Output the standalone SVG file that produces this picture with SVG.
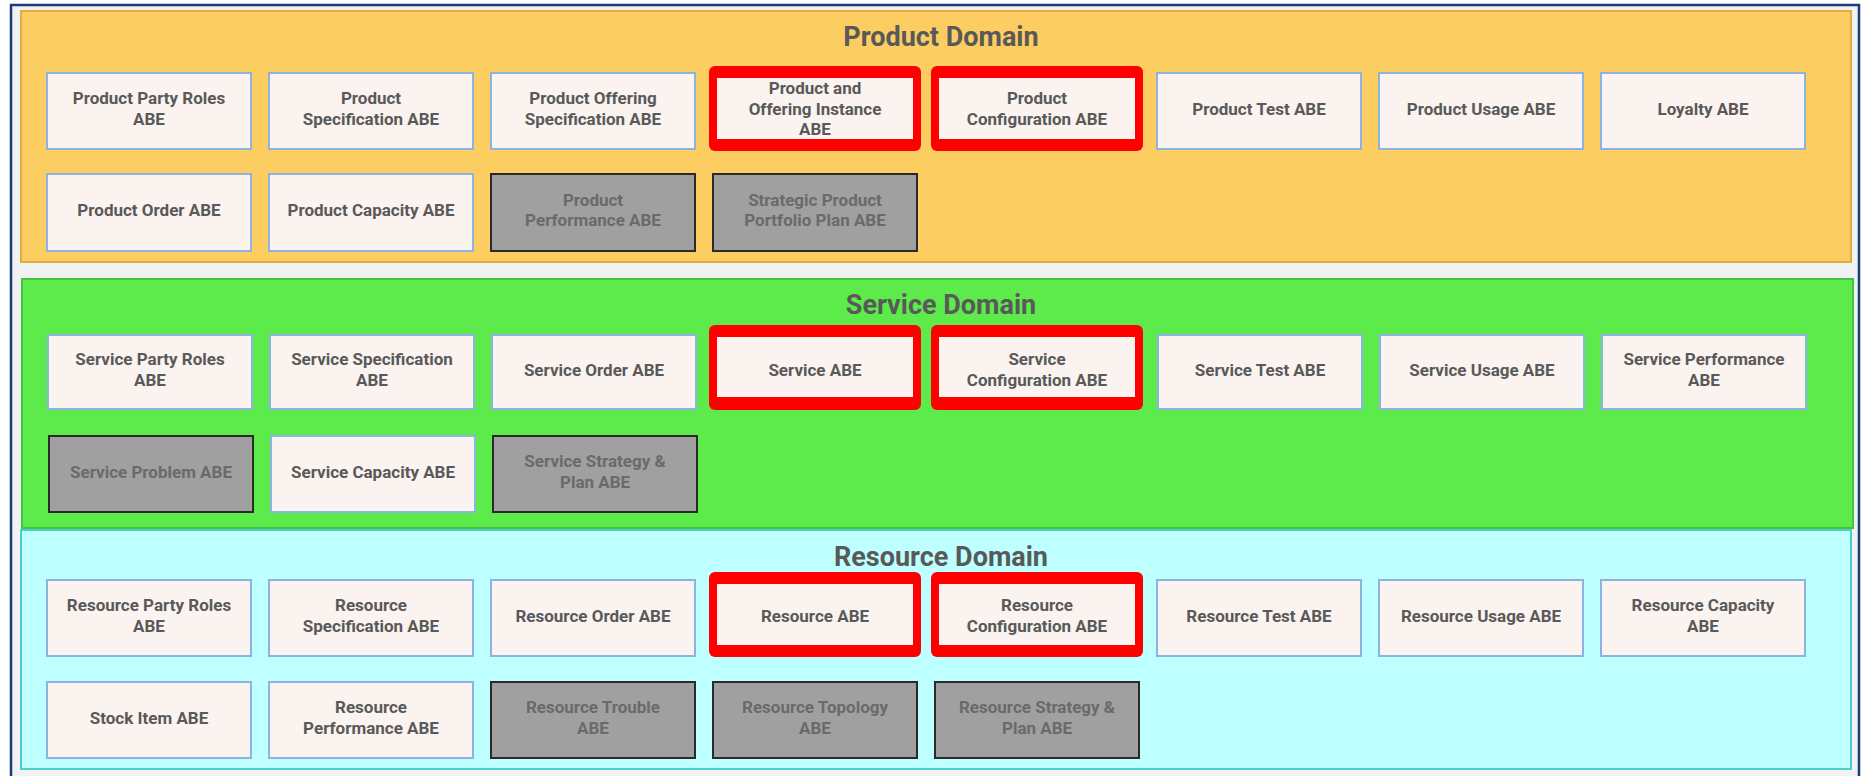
<svg xmlns="http://www.w3.org/2000/svg" width="1863" height="776" viewBox="0 0 1863 776">
<style>
.frame{fill:#F2F2F2;stroke:#1F3A7A;stroke-width:2.5}
.dp{fill:#FCCD60;stroke:#E2AD3F;stroke-width:2}
.ds{fill:#5DEB4B;stroke:#42C43C;stroke-width:2}
.dr{fill:#BEFFFF;stroke:#4CCFCB;stroke-width:2}
.title{font-family:Roboto,"Liberation Sans",sans-serif;font-weight:bold;font-size:27px;fill:#595959;text-anchor:middle}
.b{fill:#FAF3F0;stroke:#8DB3E2;stroke-width:2}
.g{fill:#A0A0A0;stroke:#2A2A2A;stroke-width:2}
.ro{fill:#FF0000}
.ri{fill:#FAF3F0}
.t{font-family:Roboto,"Liberation Sans",sans-serif;font-weight:bold;font-size:17px;fill:#595959;text-anchor:middle}
.tg{font-family:Roboto,"Liberation Sans",sans-serif;font-weight:bold;font-size:17px;fill:#6A6A6A;text-anchor:middle}
</style>
<rect x="0" y="0" width="1863" height="776" fill="#FFFFFF"/>
<rect class="frame" x="11" y="5" width="1848" height="780"/>

<g id="product-domain">
<rect class="dp" x="21" y="11" width="1830" height="251"/>
<text class="title" x="941" y="46">Product Domain</text>
</g>
<g id="service-domain">
<rect class="ds" x="22" y="279" width="1831" height="249"/>
<text class="title" x="941" y="314">Service Domain</text>
</g>
<g id="resource-domain">
<rect class="dr" x="21" y="530" width="1830" height="239"/>
<text class="title" x="941" y="566">Resource Domain</text>
</g>

<g id="connectors"></g>

<!-- Product row 1 -->
<g id="product-party-roles"><rect class="b" x="47" y="73" width="204" height="76"/><text class="t"><tspan x="149" y="104.25">Product Party Roles</tspan><tspan x="149" y="124.75">ABE</tspan></text></g>
<g id="product-specification"><rect class="b" x="269" y="73" width="204" height="76"/><text class="t"><tspan x="371" y="104.25">Product</tspan><tspan x="371" y="124.75">Specification ABE</tspan></text></g>
<g id="product-offering-specification"><rect class="b" x="491" y="73" width="204" height="76"/><text class="t"><tspan x="593" y="104.25">Product Offering</tspan><tspan x="593" y="124.75">Specification ABE</tspan></text></g>
<g id="product-offering-instance"><rect class="ro" x="709" y="66" width="212" height="85" rx="6"/><rect class="ri" x="717" y="78" width="196" height="61"/><text class="t"><tspan x="815" y="94">Product and</tspan><tspan x="815" y="114.5">Offering Instance</tspan><tspan x="815" y="135">ABE</tspan></text></g>
<g id="product-configuration"><rect class="ro" x="931" y="66" width="212" height="85" rx="6"/><rect class="ri" x="939" y="78" width="196" height="61"/><text class="t"><tspan x="1037" y="104.25">Product</tspan><tspan x="1037" y="124.75">Configuration ABE</tspan></text></g>
<g id="product-test"><rect class="b" x="1157" y="73" width="204" height="76"/><text class="t" x="1259" y="114.5">Product Test ABE</text></g>
<g id="product-usage"><rect class="b" x="1379" y="73" width="204" height="76"/><text class="t" x="1481" y="114.5">Product Usage ABE</text></g>
<g id="loyalty"><rect class="b" x="1601" y="73" width="204" height="76"/><text class="t" x="1703" y="114.5">Loyalty ABE</text></g>
<!-- Product row 2 -->
<g id="product-order"><rect class="b" x="47" y="174" width="204" height="77"/><text class="t" x="149" y="216">Product Order ABE</text></g>
<g id="product-capacity"><rect class="b" x="269" y="174" width="204" height="77"/><text class="t" x="371" y="216">Product Capacity ABE</text></g>
<g id="product-performance"><rect class="g" x="491" y="174" width="204" height="77"/><text class="tg"><tspan x="593" y="205.75">Product</tspan><tspan x="593" y="226.25">Performance ABE</tspan></text></g>
<g id="strategic-product-portfolio-plan"><rect class="g" x="713" y="174" width="204" height="77"/><text class="tg"><tspan x="815" y="205.75">Strategic Product</tspan><tspan x="815" y="226.25">Portfolio Plan ABE</tspan></text></g>

<!-- Service row 1 -->
<g id="service-party-roles"><rect class="b" x="48" y="335" width="204" height="74"/><text class="t"><tspan x="150" y="365.25">Service Party Roles</tspan><tspan x="150" y="385.75">ABE</tspan></text></g>
<g id="service-specification"><rect class="b" x="270" y="335" width="204" height="74"/><text class="t"><tspan x="372" y="365.25">Service Specification</tspan><tspan x="372" y="385.75">ABE</tspan></text></g>
<g id="service-order"><rect class="b" x="492" y="335" width="204" height="74"/><text class="t" x="594" y="375.5">Service Order ABE</text></g>
<g id="service"><rect class="ro" x="709" y="325" width="212" height="85" rx="6"/><rect class="ri" x="717" y="337" width="196" height="60"/><text class="t" x="815" y="375.5">Service ABE</text></g>
<g id="service-configuration"><rect class="ro" x="931" y="325" width="212" height="85" rx="6"/><rect class="ri" x="939" y="337" width="196" height="60"/><text class="t"><tspan x="1037" y="365.25">Service</tspan><tspan x="1037" y="385.75">Configuration ABE</tspan></text></g>
<g id="service-test"><rect class="b" x="1158" y="335" width="204" height="74"/><text class="t" x="1260" y="375.5">Service Test ABE</text></g>
<g id="service-usage"><rect class="b" x="1380" y="335" width="204" height="74"/><text class="t" x="1482" y="375.5">Service Usage ABE</text></g>
<g id="service-performance"><rect class="b" x="1602" y="335" width="204" height="74"/><text class="t"><tspan x="1704" y="365.25">Service Performance</tspan><tspan x="1704" y="385.75">ABE</tspan></text></g>
<!-- Service row 2 -->
<g id="service-problem"><rect class="g" x="49" y="436" width="204" height="76"/><text class="tg" x="151" y="477.5">Service Problem ABE</text></g>
<g id="service-capacity"><rect class="b" x="271" y="436" width="204" height="76"/><text class="t" x="373" y="477.5">Service Capacity ABE</text></g>
<g id="service-strategy-plan"><rect class="g" x="493" y="436" width="204" height="76"/><text class="tg"><tspan x="595" y="467.25">Service Strategy &amp;</tspan><tspan x="595" y="487.75">Plan ABE</tspan></text></g>

<!-- Resource row 1 -->
<g id="resource-party-roles"><rect class="b" x="47" y="580" width="204" height="76"/><text class="t"><tspan x="149" y="611.25">Resource Party Roles</tspan><tspan x="149" y="631.75">ABE</tspan></text></g>
<g id="resource-specification"><rect class="b" x="269" y="580" width="204" height="76"/><text class="t"><tspan x="371" y="611.25">Resource</tspan><tspan x="371" y="631.75">Specification ABE</tspan></text></g>
<g id="resource-order"><rect class="b" x="491" y="580" width="204" height="76"/><text class="t" x="593" y="621.5">Resource Order ABE</text></g>
<g id="resource"><rect class="ro" x="709" y="572" width="212" height="85" rx="6"/><rect class="ri" x="717" y="584" width="196" height="61"/><text class="t" x="815" y="621.5">Resource ABE</text></g>
<g id="resource-configuration"><rect class="ro" x="931" y="572" width="212" height="85" rx="6"/><rect class="ri" x="939" y="584" width="196" height="61"/><text class="t"><tspan x="1037" y="611.25">Resource</tspan><tspan x="1037" y="631.75">Configuration ABE</tspan></text></g>
<g id="resource-test"><rect class="b" x="1157" y="580" width="204" height="76"/><text class="t" x="1259" y="621.5">Resource Test ABE</text></g>
<g id="resource-usage"><rect class="b" x="1379" y="580" width="204" height="76"/><text class="t" x="1481" y="621.5">Resource Usage ABE</text></g>
<g id="resource-capacity"><rect class="b" x="1601" y="580" width="204" height="76"/><text class="t"><tspan x="1703" y="611.25">Resource Capacity</tspan><tspan x="1703" y="631.75">ABE</tspan></text></g>
<!-- Resource row 2 -->
<g id="stock-item"><rect class="b" x="47" y="682" width="204" height="76"/><text class="t" x="149" y="723.5">Stock Item ABE</text></g>
<g id="resource-performance"><rect class="b" x="269" y="682" width="204" height="76"/><text class="t"><tspan x="371" y="713.25">Resource</tspan><tspan x="371" y="733.75">Performance ABE</tspan></text></g>
<g id="resource-trouble"><rect class="g" x="491" y="682" width="204" height="76"/><text class="tg"><tspan x="593" y="713.25">Resource Trouble</tspan><tspan x="593" y="733.75">ABE</tspan></text></g>
<g id="resource-topology"><rect class="g" x="713" y="682" width="204" height="76"/><text class="tg"><tspan x="815" y="713.25">Resource Topology</tspan><tspan x="815" y="733.75">ABE</tspan></text></g>
<g id="resource-strategy-plan"><rect class="g" x="935" y="682" width="204" height="76"/><text class="tg"><tspan x="1037" y="713.25">Resource Strategy &amp;</tspan><tspan x="1037" y="733.75">Plan ABE</tspan></text></g>
</svg>
